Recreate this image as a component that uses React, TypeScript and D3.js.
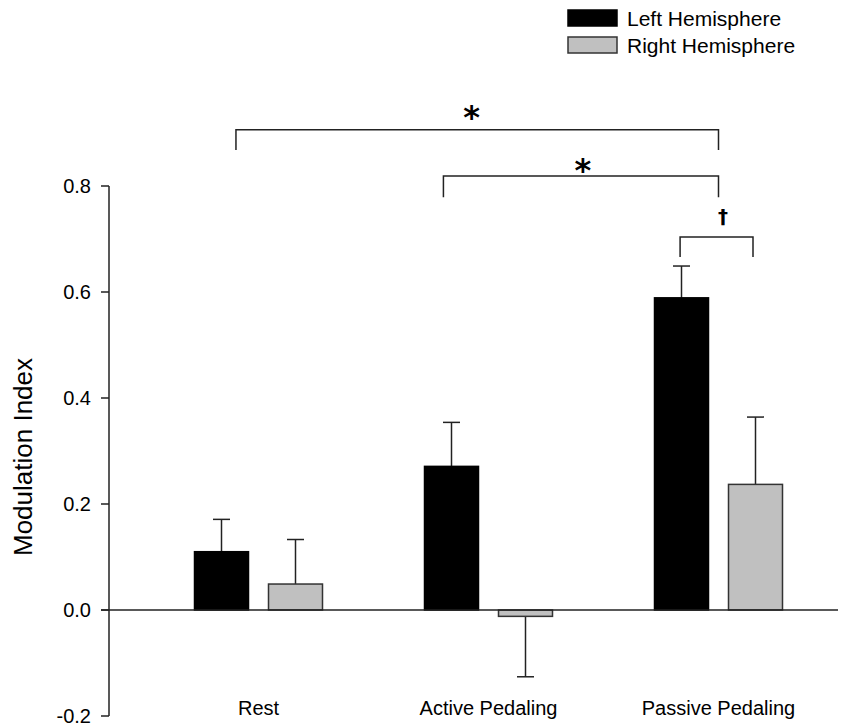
import React from "react";
import * as d3 from "d3";

// Conditions along the x axis
const categories = ["Rest", "Active Pedaling", "Passive Pedaling"];
// Hemisphere series
const seriesNames = ["Left Hemisphere", "Right Hemisphere"];
const seriesColors = ["#000000", "#c0c0c0"];
// Mean modulation index per condition
const leftMeans = [0.11, 0.271, 0.589];
const rightMeans = [0.049, -0.012, 0.237];
// Standard error (one-sided whisker)
const leftErrors = [0.061, 0.083, 0.06];
const rightErrors = [0.084, 0.114, 0.127];
// Y ticks
const yTicks = [-0.2, 0.0, 0.2, 0.4, 0.6, 0.8];

// Significance brackets: x in category-index units, y in data units
const bracketX1 = [-0.098, 0.804, 1.833];
const bracketX2 = [2.0, 2.0, 2.15];
const bracketY = [0.906, 0.819, 0.704];
const bracketLeg = [0.038, 0.04, 0.038];
const bracketLabels = ["*", "*", "\u2020"];
const bracketLabelX = [0.927, 1.41, 2.02];
const bracketLabelY = [0.945, 0.845, 0.745];

const W = 862;
const H = 725;
const FONT = "'Liberation Sans', Arial, Helvetica, sans-serif";
const INK = "#222";

export default function App() {
  const y = d3.scaleLinear().domain([-0.2, 0.8]).range([716, 186]);
  const x = d3.scaleBand<string>().domain(categories).range([143.5, 833.5]).padding(0);
  const groupW = 128;
  const inner = d3
    .scaleBand<string>()
    .domain(seriesNames)
    .range([0, groupW])
    .paddingInner(20 / 74)
    .paddingOuter(0);
  const centerOf = (i: number) => (x(categories[0]) as number) + x.bandwidth() / 2 + i * x.step();

  const axisX = 109;
  const tickLen = 8;
  const capW = 17;

  const series = [
    { name: seriesNames[0], means: leftMeans, errs: leftErrors, color: seriesColors[0] },
    { name: seriesNames[1], means: rightMeans, errs: rightErrors, color: seriesColors[1] },
  ];

  return (
    <svg
      width={W}
      height={H}
      viewBox={`0 0 ${W} ${H}`}
      style={{ position: "absolute", left: 0, top: 0, background: "#fff" }}
      fontFamily={FONT}
    >
      <rect x={0} y={0} width={W} height={H} fill="#fff" />

      {/* bars and whiskers */}
      {series.map((s) =>
        categories.map((c, i) => {
          const gx = (x(c) as number) + x.bandwidth() / 2 - groupW / 2;
          const bx = gx + (inner(s.name) as number);
          const bw = inner.bandwidth();
          const v = s.means[i];
          const top = y(Math.max(v, 0));
          const bottom = y(Math.min(v, 0));
          const cx = bx + bw / 2;
          const whiskerEnd = v >= 0 ? y(v + s.errs[i]) : y(v - s.errs[i]);
          const whiskerStart = y(v);
          return (
            <g key={s.name + c}>
              <line x1={cx} x2={cx} y1={whiskerStart} y2={whiskerEnd} stroke={INK} strokeWidth={1.5} />
              <line x1={cx - capW / 2} x2={cx + capW / 2} y1={whiskerEnd} y2={whiskerEnd} stroke={INK} strokeWidth={1.5} />
              <rect
                x={bx}
                y={top}
                width={bw}
                height={Math.max(bottom - top, 0)}
                fill={s.color}
                stroke={s.color === "#000000" ? "#000" : "#333"}
                strokeWidth={1.5}
              />
            </g>
          );
        })
      )}

      {/* zero line */}
      <line x1={axisX - tickLen} x2={838} y1={y(0)} y2={y(0)} stroke={INK} strokeWidth={1.5} />

      {/* y axis */}
      <line x1={axisX} x2={axisX} y1={y(0.8)} y2={y(-0.2)} stroke={INK} strokeWidth={1.5} />
      {yTicks.map((t) => (
        <g key={t}>
          <line x1={axisX - tickLen} x2={axisX} y1={y(t)} y2={y(t)} stroke={INK} strokeWidth={1.5} />
          <text x={91} y={y(t) + 7} textAnchor="end" fontSize={20} fill="#000">
            {t.toFixed(1)}
          </text>
        </g>
      ))}
      <text
        transform={`translate(32, 457) rotate(-90)`}
        textAnchor="middle"
        fontSize={26}
        fill="#000"
      >
        Modulation Index
      </text>

      {/* category labels */}
      {categories.map((c) => (
        <text
          key={c}
          x={(x(c) as number) + x.bandwidth() / 2}
          y={715}
          textAnchor="middle"
          fontSize={20}
          fill="#000"
        >
          {c}
        </text>
      ))}

      {/* significance brackets */}
      {bracketX1.map((bx1, k) => {
        const x1 = centerOf(bx1);
        const x2 = centerOf(bracketX2[k]);
        const yy = y(bracketY[k]);
        const yl = y(bracketY[k] - bracketLeg[k]);
        const isDagger = bracketLabels[k] !== "*";
        return (
          <g key={k}>
            <path d={`M${x1},${yl}V${yy}H${x2}V${yl}`} fill="none" stroke={INK} strokeWidth={1.5} />
            <text
              x={centerOf(bracketLabelX[k])}
              y={y(bracketLabelY[k])}
              textAnchor="middle"
              dominantBaseline="central"
              fontFamily={isDagger ? "'DejaVu Sans', sans-serif" : "'DejaVu Sans', sans-serif"}
              fontSize={isDagger ? 20 : 32}
              fontWeight="bold"
              dy={isDagger ? "0.05em" : "0.25em"}
              fill="#000"
            >
              {bracketLabels[k]}
            </text>
          </g>
        );
      })}

      {/* legend */}
      {seriesNames.map((n, k) => (
        <g key={n} transform={`translate(568, ${10 + k * 27})`}>
          <rect x={0} y={0} width={49} height={16} fill={seriesColors[k]} stroke={k === 0 ? "#000" : "#333"} strokeWidth={1.5} />
          <text x={59} y={16} fontSize={21} fill="#000">
            {n}
          </text>
        </g>
      ))}
    </svg>
  );
}
